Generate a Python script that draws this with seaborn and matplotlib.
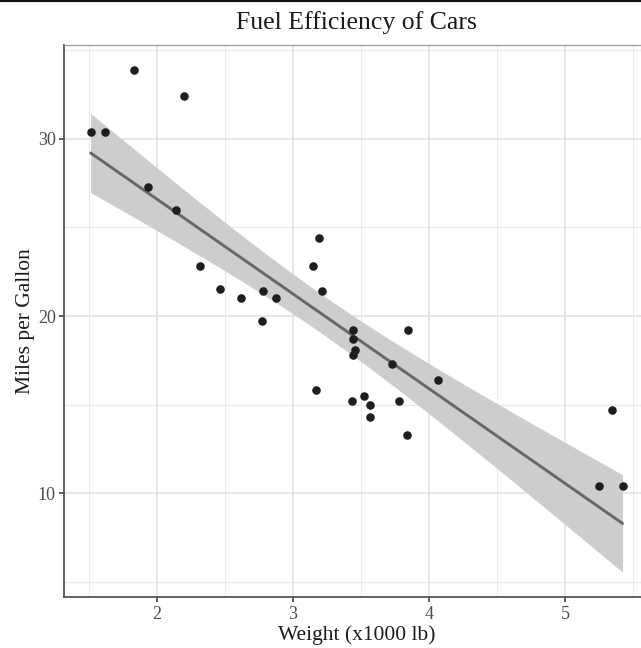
import numpy as np
import pandas as pd
import matplotlib
matplotlib.use("Agg")
import matplotlib.pyplot as plt
from matplotlib.lines import Line2D
import seaborn as sns

# mtcars: weight (1000 lb) and miles per gallon
wt = [2.620, 2.875, 2.320, 3.215, 3.440, 3.460, 3.570, 3.190, 3.150, 3.440,
      3.440, 4.070, 3.730, 3.780, 5.250, 5.424, 5.345, 2.200, 1.615, 1.835,
      2.465, 3.520, 3.435, 3.840, 3.845, 1.935, 2.140, 1.513, 3.170, 2.770,
      3.570, 2.780]
mpg = [21.0, 21.0, 22.8, 21.4, 18.7, 18.1, 14.3, 24.4, 22.8, 19.2,
       17.8, 16.4, 17.3, 15.2, 10.4, 10.4, 14.7, 32.4, 30.4, 33.9,
       21.5, 15.5, 15.2, 13.3, 19.2, 27.3, 26.0, 30.4, 15.8, 19.7,
       15.0, 21.4]
x_ticks = [2, 3, 4, 5]
y_ticks = [10, 20, 30]
title = "Fuel Efficiency of Cars"
x_label = "Weight (x1000 lb)"
y_label = "Miles per Gallon"

df = pd.DataFrame({"wt": wt, "mpg": mpg})

sns.set_theme(style="white")
plt.rcParams["font.family"] = ["Liberation Serif", "DejaVu Serif"]

fig = plt.figure(figsize=(6.41, 6.48), dpi=100)
ax = fig.add_axes([64 / 641, 1 - 597.3 / 648, 585.2 / 641, 552.8 / 648])

# linear model confidence band (95%, t-based like ggplot's geom_smooth)
xarr = np.asarray(wt)
yarr = np.asarray(mpg)
n = len(xarr)
b1, b0 = np.polyfit(xarr, yarr, 1)
resid = yarr - (b0 + b1 * xarr)
sigma = np.sqrt(np.sum(resid ** 2) / (n - 2))
sxx = np.sum((xarr - xarr.mean()) ** 2)
tval = 2.0423
xs = np.linspace(xarr.min(), xarr.max(), 80)
fit = b0 + b1 * xs
se = sigma * np.sqrt(1 / n + (xs - xarr.mean()) ** 2 / sxx)
ax.fill_between(xs, fit - tval * se, fit + tval * se, color="#cdcdcd",
                linewidth=0, zorder=2)

sns.regplot(data=df, x="wt", y="mpg", ax=ax, ci=None, scatter=False,
            line_kws=dict(color="#686868", linewidth=2.1, zorder=3))
sns.scatterplot(data=df, x="wt", y="mpg", ax=ax, color="#1e1e1e", s=38,
                linewidth=0, zorder=4)

ax.set_xlim(1.317, 5.620)
ax.set_ylim(4.13, 35.32)
ax.set_xticks(x_ticks)
ax.set_yticks(y_ticks)
ax.set_xticks([1.5, 2.5, 3.5, 4.5, 5.5], minor=True)
ax.set_yticks([5, 15, 25, 35], minor=True)
ax.grid(True, which="major", color="#e2e2e2", linewidth=1.2, zorder=0)
ax.grid(True, which="minor", color="#e9e9e9", linewidth=0.8, zorder=0)
ax.set_axisbelow(True)

ax.tick_params(axis="both", which="major", length=3.5, width=1.1,
               color="#333333", labelsize=13, labelcolor="#4d4d4d",
               direction="out", bottom=True, left=True, pad=2.5)
ax.tick_params(axis="both", which="minor", length=0)

for side in ["left", "bottom"]:
    ax.spines[side].set_color("#555555")
    ax.spines[side].set_linewidth(1.3)
for side in ["top", "right"]:
    ax.spines[side].set_color("#999999")
    ax.spines[side].set_linewidth(0.9)

ax.set_title(title, fontsize=18.5, color="#1a1a1a", pad=11)
ax.set_xlabel(x_label, fontsize=15.5, color="#1a1a1a", labelpad=2)
ax.set_ylabel(y_label, fontsize=15.5, color="#1a1a1a", labelpad=2)

fig.add_artist(Line2D([0, 1], [0.999, 0.999], transform=fig.transFigure,
                      color="#111111", linewidth=1.5))

fig.savefig("out.png", dpi=100)
